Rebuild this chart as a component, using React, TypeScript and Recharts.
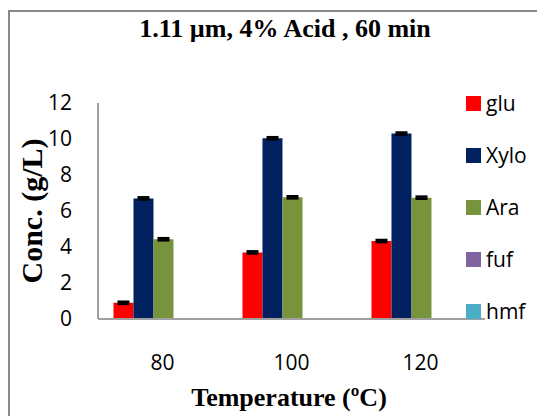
import React from 'react';
import { BarChart, Bar, XAxis, YAxis, ErrorBar, Legend } from 'recharts';

const categories = ['80', '100', '120'];
const glu = [0.9, 3.7, 4.33];
const xylo = [6.7, 10.04, 10.3];
const ara = [4.43, 6.76, 6.74];
const fuf = [0, 0, 0];
const hmf = [0, 0, 0];
const errGlu = [0.06, 0.06, 0.06];
const errXylo = [0.06, 0.06, 0.06];
const errAra = [0.06, 0.06, 0.06];
const yTicks = [0, 2, 4, 6, 8, 10, 12];

const seriesNames = ['glu', 'Xylo', 'Ara', 'fuf', 'hmf'];
const seriesColors = ['#FF0000', '#002060', '#77933C', '#8064A2', '#4BACC6'];

const data = categories.map((c, i) => ({
  cat: c,
  glu: glu[i],
  Xylo: xylo[i],
  Ara: ara[i],
  fuf: fuf[i],
  hmf: hmf[i],
  eGlu: errGlu[i],
  eXylo: errXylo[i],
  eAra: errAra[i],
}));

const tickFont = { fontFamily: '"Open Sans", sans-serif', fontSize: 21, fill: '#000' };

const renderLegend = () => (
  <div style={{ display: 'flex', flexDirection: 'column' }}>
    {seriesNames.map((n, i) => (
      <div key={n} style={{ display: 'flex', alignItems: 'center', height: 52 }}>
        <div style={{ width: 15, height: 15, background: seriesColors[i], marginRight: 5 }} />
        <span style={{ fontFamily: '"Open Sans", sans-serif', fontSize: 21, color: '#000', lineHeight: 1 }}>{n}</span>
      </div>
    ))}
  </div>
);

export default function App() {
  return (
    <div style={{ position: 'absolute', left: 0, top: 0, width: 537, height: 416, overflow: 'hidden', background: '#fff' }}>
      <div style={{ position: 'absolute', left: 8, top: 10, width: 560, height: 440, border: '2px solid #8a8a8a' }} />
      <div style={{ position: 'absolute', left: 0, top: 0 }}>
        <BarChart width={537} height={416} data={data} margin={{ top: 103, right: 52, bottom: 67, left: 0 }} barGap={0} barCategoryGap="12%">
          <XAxis dataKey="cat" height={30} tick={tickFont} tickLine={false} tickSize={0} tickMargin={36} axisLine={{ stroke: '#a0a0a0', strokeWidth: 2 }} />
          <YAxis domain={[0, 12]} ticks={yTicks} width={98} tick={tickFont} tickLine={false} tickSize={0} tickMargin={26} axisLine={{ stroke: '#a0a0a0', strokeWidth: 2 }} interval={0} />
          <Legend layout="vertical" align="center" verticalAlign="middle" content={renderLegend} wrapperStyle={{ left: 466, top: 77, width: 80 }} />
          <Bar dataKey="glu" fill={seriesColors[0]} isAnimationActive={false}>
            <ErrorBar dataKey="eGlu" width={6} stroke="#000" strokeWidth={2.5} direction="y" />
          </Bar>
          <Bar dataKey="Xylo" fill={seriesColors[1]} isAnimationActive={false}>
            <ErrorBar dataKey="eXylo" width={6} stroke="#000" strokeWidth={2.5} direction="y" />
          </Bar>
          <Bar dataKey="Ara" fill={seriesColors[2]} isAnimationActive={false}>
            <ErrorBar dataKey="eAra" width={6} stroke="#000" strokeWidth={2.5} direction="y" />
          </Bar>
          <Bar dataKey="fuf" fill={seriesColors[3]} isAnimationActive={false} />
          <Bar dataKey="hmf" fill={seriesColors[4]} isAnimationActive={false} />
        </BarChart>
      </div>
      <div style={{ position: 'absolute', left: 0, width: 570, top: 13, textAlign: 'center', fontFamily: '"Liberation Serif", serif', fontWeight: 'bold', fontSize: 26, lineHeight: '32px', color: '#000' }}>
        1.11 µm, 4% Acid , 60 min
      </div>
      <div style={{ position: 'absolute', left: 32, top: 211, width: 0, height: 0 }}>
        <div style={{ position: 'absolute', left: -150, top: -20, width: 300, textAlign: 'center', transform: 'rotate(-90deg)', fontFamily: '"Liberation Serif", serif', fontWeight: 'bold', fontSize: 30, lineHeight: '40px', color: '#000', whiteSpace: 'nowrap' }}>
          Conc. (g/L)
        </div>
      </div>
      <div style={{ position: 'absolute', left: 139, width: 300, top: 382, textAlign: 'center', fontFamily: '"Liberation Serif", serif', fontWeight: 'bold', fontSize: 26, lineHeight: '32px', color: '#000' }}>
        Temperature (ºC)
      </div>
    </div>
  );
}
